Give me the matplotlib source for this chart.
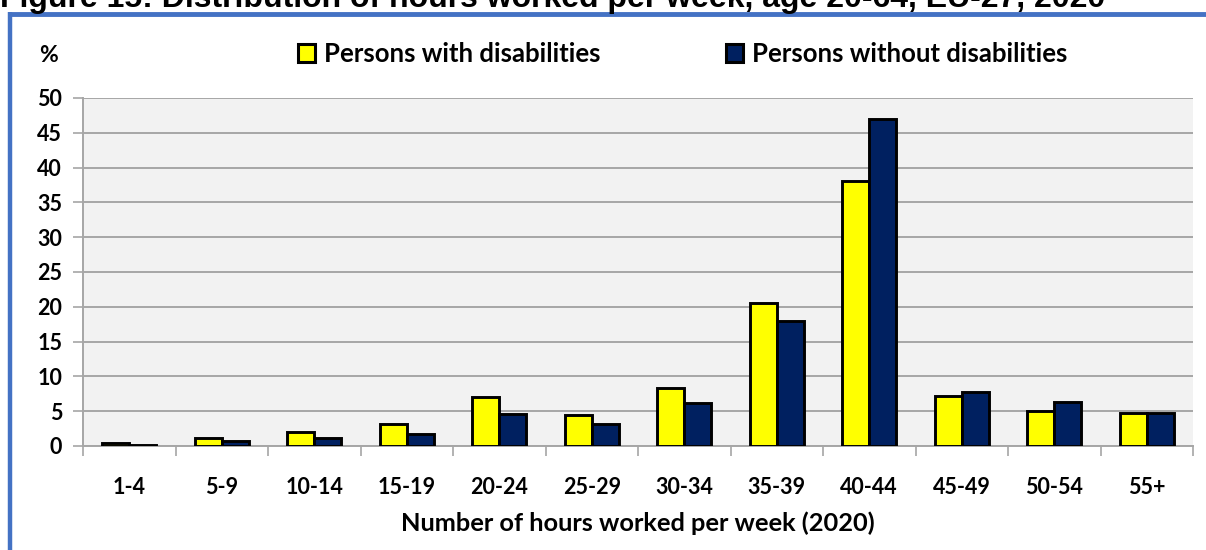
import matplotlib
matplotlib.use("Agg")
import matplotlib.pyplot as plt
import numpy as np
from matplotlib.patches import Patch
from matplotlib.lines import Line2D

categories = ["1-4", "5-9", "10-14", "15-19", "20-24", "25-29", "30-34",
              "35-39", "40-44", "45-49", "50-54", "55+"]
with_dis = [0.4, 1.2, 2.0, 3.1, 7.0, 4.4, 8.3, 20.6, 38.1, 7.2, 5.1, 4.7]
without_dis = [0.2, 0.7, 1.1, 1.7, 4.6, 3.2, 6.2, 17.9, 47.0, 7.7, 6.3, 4.7]
series_names = ["Persons with disabilities", "Persons without disabilities"]
title = "Figure 15: Distribution of hours worked per week, age 20-64, EU-27, 2020"
xlabel = "Number of hours worked per week (2020)"
yticks = list(range(0, 51, 5))

FONT = "Lato"
W, H = 1206, 550
fig = plt.figure(figsize=(W / 100, H / 100), dpi=100)

# frame lines
fig.add_artist(Line2D([9.5 / W, 9.5 / W], [0, 1 - 11.5 / H], color="#4472C4", lw=3.2,
                      transform=fig.transFigure, solid_capstyle="butt"))
fig.add_artist(Line2D([8 / W, 1], [1 - 13.5 / H, 1 - 13.5 / H], color="#4472C4", lw=3.5,
                      transform=fig.transFigure, solid_capstyle="butt"))
fig.text(0.0, 1 - 7 / H, title, fontsize=23, fontweight="bold",
         family="Liberation Sans", va="baseline", ha="left")

ax = fig.add_axes([83 / W, 1 - 446 / H, (1193 - 83) / W, (446 - 98) / H])
ax.set_facecolor("#F2F2F2")
x = np.arange(len(categories))
bw = 0.29
ax.bar(x - bw / 2, with_dis, bw, color="#FFFF00", edgecolor="black", linewidth=2.1,
       zorder=3)
ax.bar(x + bw / 2, without_dis, bw, color="#002060", edgecolor="black", linewidth=2.1,
       zorder=3)

ax.set_xlim(-0.5, len(categories) - 0.5)
ax.set_ylim(0, 50)
ax.set_yticks(yticks)
ax.set_xticks(x)
ax.set_xticklabels(categories)
ax.set_xticks(np.arange(-0.5, len(categories), 1), minor=True)
ax.tick_params(axis="x", which="major", length=0, pad=22)
ax.tick_params(axis="x", which="minor", length=7, color="#A6A6A6", width=1.2)
ax.tick_params(axis="y", length=7, color="#A6A6A6", width=1.2, pad=8)
for lab in ax.get_xticklabels() + ax.get_yticklabels():
    lab.set_fontsize(15.5)
    lab.set_fontweight("bold")
    lab.set_family(FONT)
ax.grid(axis="y", color="#A6A6A6", linewidth=1.4, zorder=1)
ax.set_axisbelow(True)
for s in ["top", "right"]:
    ax.spines[s].set_visible(False)
for s in ["left", "bottom"]:
    ax.spines[s].set_color("#A6A6A6")
    ax.spines[s].set_linewidth(1.4)

ax.set_xlabel(xlabel, fontsize=18.3, fontweight="bold", family=FONT, labelpad=10)
fig.text(48 / W, 1 - 56 / H, "%", fontsize=16.5, fontweight="bold", family=FONT,
         ha="center", va="center")

handles = [Patch(facecolor="#FFFF00", edgecolor="black", linewidth=2.2),
           Patch(facecolor="#002060", edgecolor="black", linewidth=2.2)]
leg = fig.legend(handles, series_names, loc="center left",
                 bbox_to_anchor=(298 / W, 1 - 54 / H), ncol=2, frameon=False,
                 prop={"family": FONT, "weight": "bold", "size": 18.5},
                 handlelength=0.65, handleheight=0.65, handletextpad=0.35,
                 columnspacing=4.9, borderaxespad=0, borderpad=0)

fig.savefig("out.png", dpi=100)
